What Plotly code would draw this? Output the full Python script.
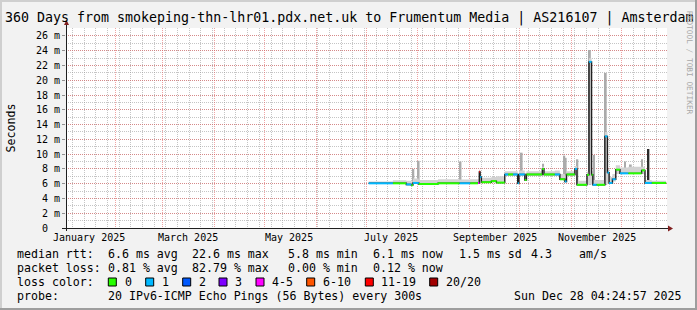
import plotly.graph_objects as go

# ---------------- data ----------------
x_start = "2025-01-02 04:24:57"
x_end = "2025-12-28 04:24:57"

# median rtt (ms) as steps: segment start, value, loss class index
seg_start = ["2025-07-02 12:00", "2025-07-17 00:00", "2025-07-25 00:00", "2025-07-28 00:00",
             "2025-07-29 00:00", "2025-08-01 12:00", "2025-08-13 00:00", "2025-08-26 00:00",
             "2025-09-01 06:00", "2025-09-06 00:00", "2025-09-06 18:00", "2025-09-07 06:00",
             "2025-09-08 00:00", "2025-09-14 00:00", "2025-09-17 00:00", "2025-09-22 00:00",
             "2025-09-24 00:00", "2025-09-27 00:00", "2025-09-29 18:00", "2025-09-30 12:00",
             "2025-10-04 00:00", "2025-10-05 00:00", "2025-10-14 12:00", "2025-10-15 12:00",
             "2025-10-22 00:00", "2025-10-25 00:00", "2025-10-28 00:00", "2025-10-29 00:00",
             "2025-11-03 00:00", "2025-11-04 06:00", "2025-11-10 06:00", "2025-11-11 12:00",
             "2025-11-13 00:00", "2025-11-13 18:00", "2025-11-16 00:00", "2025-11-21 00:00",
             "2025-11-22 12:00", "2025-11-23 12:00", "2025-11-25 12:00", "2025-11-27 12:00",
             "2025-11-30 00:00", "2025-12-05 00:00", "2025-12-13 00:00", "2025-12-15 00:00",
             "2025-12-19 00:00"]
seg_median = [6.05, 6.05, 5.9, 5.8,
              6.1, 5.96, 6.05, 6.05,
              6.05, 6.1, 7.6, 6.9,
              6.2, 6.35, 6.15, 7.25,
              7.25, 7.25, 6.05, 7.25,
              6.5, 7.25, 8.0, 7.25,
              7.25, 6.6, 6.3, 7.25,
              8.0, 5.85, 7.2, 22.5,
              7.2, 5.85, 5.85, 12.4,
              7.5, 6.1, 6.6, 7.9,
              7.4, 7.4, 7.8, 6.1,
              6.1]
seg_loss = [1, 0, 1, 0,
            1, 0, 0, 1,
            0, 4, 6, 1,
            0, 0, 0, 1,
            0, 1, 1, 1,
            0, 0, 0, 0,
            1, 0, 1, 0,
            1, 0, 0, 1,
            0, 1, 0, 1,
            1, 1, 1, 0,
            1, 0, 0, 1,
            0]
seg_smoke_lo = [5.95, 5.95, 5.8, 5.7,
                6.0, 5.9, 5.95, 5.95,
                5.95, 6.0, 6.0, 6.0,
                6.1, 6.2, 6.05, 7.1,
                7.1, 7.1, 5.95, 7.1,
                6.4, 7.1, 7.1, 7.1,
                7.1, 6.5, 6.2, 7.1,
                7.1, 5.75, 5.9, 5.9,
                5.9, 5.75, 5.75, 5.9,
                6.0, 6.0, 6.3, 7.3,
                7.3, 7.3, 7.3, 6.0,
                6.0]
seg_smoke_hi = [6.3, 6.45, 6.4, 6.3,
                6.7, 6.5, 6.6, 6.55,
                6.6, 6.6, 7.9, 7.3,
                6.8, 6.9, 7.0, 7.7,
                7.7, 7.7, 6.9, 7.8,
                7.4, 7.7, 8.3, 7.7,
                7.8, 7.3, 7.1, 7.7,
                8.4, 6.4, 7.6, 23.0,
                7.7, 6.5, 6.5, 13.0,
                8.0, 6.9, 7.3, 8.5,
                8.2, 8.3, 8.3, 6.5,
                6.4]
data_end = "2025-12-27 16:00"

# isolated light-grey smoke spikes
spike_date = ["2025-07-29 06:00", "2025-08-01 10:00", "2025-08-26 12:00", "2025-10-02 03:00",
              "2025-10-15 00:00", "2025-10-27 16:00", "2025-10-28 12:00", "2025-11-04 12:00",
              "2025-11-12 00:00", "2025-11-14 12:00", "2025-11-21 12:00", "2025-12-03 00:00",
              "2025-12-06 12:00", "2025-12-13 06:00"]
spike_lo = [6.1, 6.0, 6.05, 7.25, 7.25, 7.25, 6.6, 5.9, 6.0, 5.9, 6.0, 7.4, 7.4, 7.4]
spike_hi = [8.0, 9.1, 9.0, 10.2, 8.7, 9.8, 9.5, 9.3, 24.1, 9.9, 21.0, 9.0, 8.6, 9.3]

# dark (dense) smoke spikes
dark_date = ["2025-11-12 00:00", "2025-11-21 12:00", "2025-12-16 22:00"]
dark_lo = [5.9, 5.9, 6.1]
dark_hi = [22.5, 12.4, 10.7]

loss_labels = ["0", "1", "2", "3", "4-5", "6-10", "11-19", "20/20"]
loss_colors = ["#26ff00", "#00b8ff", "#0059ff", "#7e00ff", "#ff00ff", "#ff5500", "#ff0000", "#a10000"]

y_tick_vals = [0, 2, 4, 6, 8, 10, 12, 14, 16, 18, 20, 22, 24, 26]
y_tick_text = ["0\u00a0\u00a0"] + [f"{v}\u00a0m" for v in y_tick_vals[1:]]

x_label_dates = ["2025-01-16", "2025-03-16", "2025-05-16", "2025-07-16", "2025-09-16", "2025-11-16"]
x_label_text = ["January 2025", "March 2025", "May 2025", "July 2025", "September 2025", "November 2025"]

title_text = "360 Days from smokeping-thn-lhr01.pdx.net.uk to Frumentum Media | AS216107 | Amsterdam"

legend_rows = [
    [(16, "median rtt:"), (107.3, "6.6 ms avg"), (190.7, "22.6 ms max"), (286.7, "5.8 ms min"),
     (372, "6.1 ms now"), (458, "1.5 ms sd"), (529.7, "4.3"), (578, "am/s")],
    [(16, "packet loss:"), (107.3, "0.81 % avg"), (190.7, "82.79 % max"), (286.7, "0.00 % min"),
     (372, "0.12 % now")],
    [(16, "loss color:")],
    [(16, "probe:"), (107.3, "20 IPv6-ICMP Echo Pings (56 Bytes) every 300s"),
     (513, "Sun Dec 28 04:24:57 2025")],
]
legend_row_y = [254.3, 268.3, 282.3, 296.3]
loss_box_x = [108.3, 145.7, 182.7, 219, 256, 306.7, 365.3, 429.7]
loss_text_x = [124, 161, 197.7, 234.3, 271, 321.7, 380.3, 445.3]

# ---------------- layout geometry ----------------
W, H = 697, 310
L, R, T, B = 66, 667, 28, 228
PW, PH = R - L, B - T
MONO = "DejaVu Sans Mono"


def px(x):
    return (x - L) / PW


def py(y):
    return (B - y) / PH


fig = go.Figure()

# smoke band
sx = seg_start + [data_end]
fig.add_trace(go.Scatter(x=sx, y=seg_smoke_lo + [seg_smoke_lo[-1]], mode="lines",
                         line=dict(width=0, shape="hv"), hoverinfo="skip", showlegend=False))
fig.add_trace(go.Scatter(x=sx, y=seg_smoke_hi + [seg_smoke_hi[-1]], mode="lines",
                         line=dict(width=0, shape="hv"), fill="tonexty", fillcolor="#d2d2d2",
                         hoverinfo="skip", showlegend=False))

# light spikes
fig.add_trace(go.Bar(x=spike_date, y=[h - l for h, l in zip(spike_hi, spike_lo)], base=spike_lo,
                     width=86400000 * 1.1, marker=dict(color="#ababab", line=dict(width=0)),
                     hoverinfo="skip", showlegend=False))
# dark spikes
fig.add_trace(go.Bar(x=dark_date, y=[h - l for h, l in zip(dark_hi, dark_lo)], base=dark_lo,
                     width=86400000 * 1.4, marker=dict(color="#2a2a2a", line=dict(width=0)),
                     hoverinfo="skip", showlegend=False))

# vertical connectors of the median step line
fig.add_trace(go.Scatter(x=sx, y=seg_median + [seg_median[-1]], mode="lines",
                         line=dict(width=1.4, color="#202020", shape="hv"),
                         hoverinfo="skip", showlegend=False))

# coloured median segments
for ci, col in enumerate(loss_colors):
    xs, ys = [], []
    for i, c in enumerate(seg_loss):
        if c != ci:
            continue
        xe = seg_start[i + 1] if i + 1 < len(seg_start) else data_end
        xs += [seg_start[i], xe, None]
        ys += [seg_median[i], seg_median[i], None]
    if xs:
        fig.add_trace(go.Scatter(x=xs, y=ys, mode="lines", line=dict(width=2, color=col),
                                 hoverinfo="skip", showlegend=False))

GRID = "rgba(150,150,150,0.55)"
MGRID = "rgba(225,90,90,0.55)"

fig.update_layout(
    width=W, height=H,
    margin=dict(l=L, r=W - R, t=T, b=H - B, pad=0),
    paper_bgcolor="#f2f2f2", plot_bgcolor="#ffffff",
    barmode="overlay", showlegend=False,
    font=dict(family=MONO, size=10, color="#000000"),
    xaxis=dict(type="date", range=[x_start, x_end], showticklabels=False, ticks="",
               tickmode="linear", tick0="2025-01-01", dtick="M1",
               showgrid=True, gridcolor=MGRID, griddash="1px,1px", gridwidth=1,
               zeroline=False, showline=False,
               minor=dict(tickmode="linear", tick0="2025-01-06", dtick=7 * 86400000,
                          showgrid=True, gridcolor=GRID, griddash="1px,1px", gridwidth=1)),
    yaxis=dict(range=[0, 27.08], tickmode="array", tickvals=y_tick_vals, ticktext=y_tick_text,
               tickfont=dict(family=MONO, size=10), ticks="outside", ticklen=3,
               tickcolor="rgba(120,120,120,0.8)",
               showgrid=True, gridcolor=MGRID, griddash="1px,1px", gridwidth=1,
               zeroline=False, showline=False,
               minor=dict(tickmode="linear", tick0=0, dtick=1, showgrid=True,
                          gridcolor=GRID, griddash="1px,1px", gridwidth=1)),
)

annotations = []


def ann(x, y, text, size=11.6, xanchor="left", color="#000000", **kw):
    annotations.append(dict(x=px(x), y=py(y), xref="paper", yref="paper", text=text.replace(" ", "\u00a0"),
                            showarrow=False, xanchor=xanchor, yanchor="middle", borderpad=0,
                            font=dict(family=MONO, size=size, color=color), **kw))


ann(4, 18.5, title_text, size=13.3)
ann(10.5, 128, "Seconds", size=11.6, xanchor="center", textangle=-90)
ann(690, 63, "RRDTOOL / TOBI OETIKER", size=7.8, xanchor="center", color="#a8a8a8", textangle=90)

for d, t in zip(x_label_dates, x_label_text):
    annotations.append(dict(x=d, y=py(237), xref="x", yref="paper", text=t.replace(" ", "\u00a0"),
                            showarrow=False, xanchor="center", yanchor="middle", borderpad=0,
                            font=dict(family=MONO, size=10, color="#000000")))

for row, yy in zip(legend_rows, legend_row_y):
    for xx, t in row:
        ann(xx, yy, t)
for bx, tx, lab in zip(loss_box_x, loss_text_x, loss_labels):
    ann(tx, legend_row_y[2], lab)

fig.update_layout(annotations=annotations)

shapes = []
for bx, col in zip(loss_box_x, loss_colors):
    shapes.append(dict(type="rect", xref="paper", yref="paper", x0=px(bx), x1=px(bx + 8),
                       y0=py(286), y1=py(278), fillcolor=col, line=dict(color="#000000", width=1),
                       layer="above"))

AX = "#1f1f1f"
ARROW = "#801f1f"
# axes
shapes.append(dict(type="line", xref="paper", yref="paper", x0=px(62), x1=px(668), y0=py(228.5), y1=py(228.5),
                   line=dict(color=AX, width=1), layer="above"))
shapes.append(dict(type="line", xref="paper", yref="paper", x0=px(66.5), x1=px(66.5), y0=py(231), y1=py(24),
                   line=dict(color=AX, width=1), layer="above"))
shapes.append(dict(type="path", xref="paper", yref="paper",
                   path=f"M {px(668)} {py(225.5)} L {px(673)} {py(228.5)} L {px(668)} {py(231.5)} Z",
                   fillcolor=ARROW, line=dict(color=ARROW, width=0), layer="above"))
shapes.append(dict(type="path", xref="paper", yref="paper",
                   path=f"M {px(64)} {py(25)} L {px(66.5)} {py(20)} L {px(69)} {py(25)} Z",
                   fillcolor=ARROW, line=dict(color=ARROW, width=0), layer="above"))
# frame shading
shapes.append(dict(type="rect", xref="paper", yref="paper", x0=px(0), x1=px(697), y0=py(0), y1=py(2),
                   fillcolor="#cfcfcf", line=dict(width=0), layer="above"))
shapes.append(dict(type="rect", xref="paper", yref="paper", x0=px(0), x1=px(2), y0=py(0), y1=py(310),
                   fillcolor="#cfcfcf", line=dict(width=0), layer="above"))
shapes.append(dict(type="rect", xref="paper", yref="paper", x0=px(0), x1=px(697), y0=py(308), y1=py(310),
                   fillcolor="#9e9e9e", line=dict(width=0), layer="above"))
shapes.append(dict(type="rect", xref="paper", yref="paper", x0=px(695), x1=px(697), y0=py(0), y1=py(310),
                   fillcolor="#9e9e9e", line=dict(width=0), layer="above"))

fig.update_layout(shapes=shapes)

fig.write_html("out.html", config={"displayModeBar": False})
